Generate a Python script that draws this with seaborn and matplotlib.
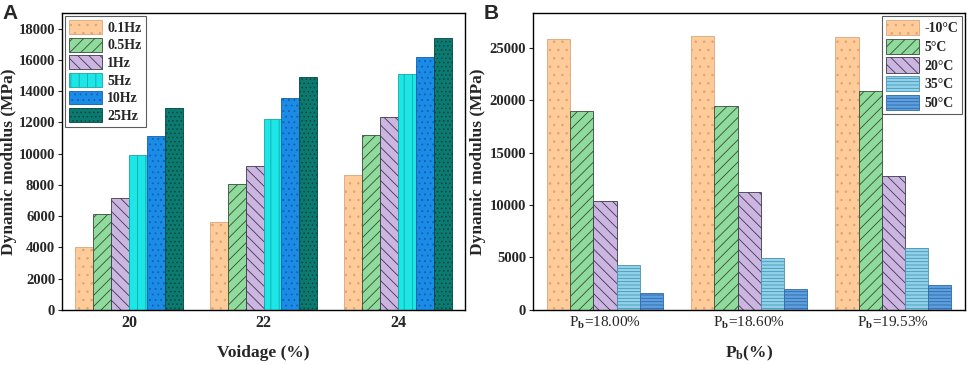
import numpy as np
import pandas as pd
import seaborn as sns
import matplotlib.pyplot as plt

# panel A: dynamic modulus vs voidage, per loading frequency
voidage = ['20', '22', '24']
freqs = ['0.1Hz', '0.5Hz', '1Hz', '5Hz', '10Hz', '25Hz']
mod_a = {
    '0.1Hz': [4050, 5620, 8610],
    '0.5Hz': [6170, 8060, 11210],
    '1Hz': [7190, 9230, 12360],
    '5Hz': [9890, 12190, 15080],
    '10Hz': [11140, 13560, 16210],
    '25Hz': [12950, 14890, 17390],
}

# panel B: dynamic modulus vs binder content, per temperature
pb = ['18.00', '18.60', '19.53']
temps = ['-10°C', '5°C', '20°C', '35°C', '50°C']
mod_b = {
    '-10°C': [25850, 26160, 26070],
    '5°C': [18990, 19460, 20880],
    '20°C': [10380, 11200, 12740],
    '35°C': [4310, 4940, 5880],
    '50°C': [1570, 2010, 2360],
}

df_a = pd.DataFrame([(v, f, mod_a[f][i]) for f in freqs for i, v in enumerate(voidage)],
                    columns=['voidage', 'freq', 'modulus'])
df_b = pd.DataFrame([(p, t, mod_b[t][i]) for t in temps for i, p in enumerate(pb)],
                    columns=['pb', 'temp', 'modulus'])

sns.set_style('ticks')
plt.rcParams['font.family'] = ['Liberation Serif', 'DejaVu Serif']
plt.rcParams['font.weight'] = 'bold'
plt.rcParams['mathtext.fontset'] = 'custom'
plt.rcParams['mathtext.rm'] = 'Liberation Serif'
plt.rcParams['mathtext.bf'] = 'Liberation Serif:bold'
plt.rcParams['hatch.linewidth'] = 0.6

# fill, hatch, hatch/edge colour
style_a = [('#FFCC99', '..', '#D9A57A'),
           ('#8EDB9C', '///', '#3A4A3A'),
           ('#CDB5E2', '\\\\\\', '#3A3A4A'),
           ('#1CE6E6', '||', '#14A8A8'),
           ('#1A8CE8', '...', '#145FA8'),
           ('#0B7A70', '....', '#05453F')]
style_b = [('#FFCC99', '..', '#D9A57A'),
           ('#8EDB9C', '///', '#3A4A3A'),
           ('#CDB5E2', '\\\\\\', '#3A3A4A'),
           ('#90D4EC', '-----', '#4C92B0'),
           ('#5E9FE0', '-----', '#2E6AA6')]

fig = plt.figure(figsize=(9.69, 3.65), dpi=100)
ax1 = fig.add_axes([0.064, 0.151, 0.416, 0.813])
ax2 = fig.add_axes([0.550, 0.151, 0.446, 0.813])


def style_bars(ax, styles):
    for cont, (fc, h, ec) in zip(ax.containers, styles):
        for p in cont.patches:
            p.set_facecolor(fc)
            p.set_edgecolor(ec)
            p.set_hatch(h)
            p.set_linewidth(0.6)


leg_kw = dict(fontsize=10, frameon=True, fancybox=False, edgecolor='#333333',
              handlelength=2.4, handletextpad=0.35, borderpad=0.3, borderaxespad=0.2)

sns.barplot(data=df_a, x='voidage', y='modulus', hue='freq', order=voidage,
            hue_order=freqs, width=0.8, gap=0, ax=ax1, legend=False)
style_bars(ax1, style_a)
ax1.set_xlim(-0.5, 2.5)
ax1.set_ylim(0, 19000)
ax1.set_yticks(np.arange(0, 18001, 2000))
ax1.set_xlabel('Voidage (%)', fontsize=12.5, fontweight='bold', labelpad=10)
ax1.set_ylabel('Dynamic modulus (MPa)', fontsize=12.5, fontweight='bold')
ax1.yaxis.set_label_coords(-0.112, 0.5)
leg = ax1.legend(ax1.containers, freqs, loc='upper left', handleheight=1.15,
                 labelspacing=0.22, **leg_kw)
leg.get_frame().set_linewidth(0.8)

sns.barplot(data=df_b, x='pb', y='modulus', hue='temp', order=pb,
            hue_order=temps, width=0.8, gap=0, ax=ax2, legend=False)
style_bars(ax2, style_b)
ax2.set_xlim(-0.5, 2.5)
ax2.set_ylim(0, 28300)
ax2.set_yticks(np.arange(0, 25001, 5000))
ax2.set_xticks(range(3))
ax2.set_xticklabels([r'P$_\mathrm{b}$=' + p + '%' for p in pb], fontweight='normal')
ax2.set_xlabel(r'$\mathbf{P_b}$(%)', fontsize=12.5, fontweight='bold', labelpad=9)
ax2.set_ylabel('Dynamic modulus (MPa)', fontsize=12.5, fontweight='bold')
ax2.yaxis.set_label_coords(-0.108, 0.5)
leg = ax2.legend(ax2.containers, temps, loc='upper right', handleheight=1.3,
                 labelspacing=0.25, **leg_kw)
leg.get_frame().set_linewidth(0.8)

for ax in (ax1, ax2):
    for s in ax.spines.values():
        s.set_visible(True)
        s.set_linewidth(1.0)
        s.set_color('black')
    ax.tick_params(axis='y', direction='out', length=3, labelsize=10.5, width=0.8, pad=2)
    ax.tick_params(axis='x', direction='in', length=3, labelsize=11, width=0.8)
    for t in ax.get_yticklabels():
        t.set_fontweight('bold')

for t in ax1.get_xticklabels():
    t.set_fontweight('bold')
    t.set_fontsize(11.5)

fig.text(0.003, 0.988, 'A', fontsize=15, fontweight='bold', family='Liberation Sans', va='top')
fig.text(0.499, 0.988, 'B', fontsize=15, fontweight='bold', family='Liberation Sans', va='top')

fig.savefig('out.png', dpi=100)
